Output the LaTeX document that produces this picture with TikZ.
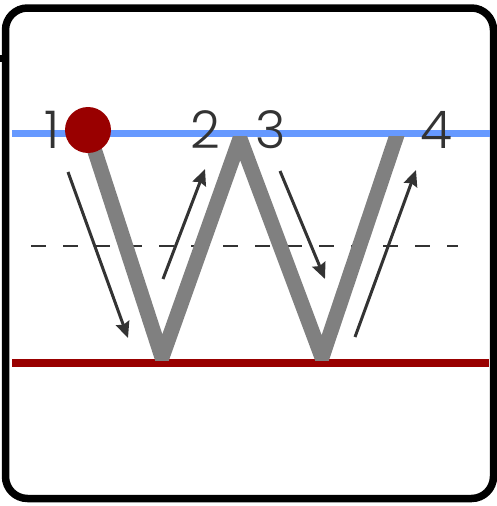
\documentclass[tikz,border=0pt]{standalone}
\usepackage{fontspec}
\newfontfamily\digitfont{Poppins Light}
\usetikzlibrary{arrows.meta}
\definecolor{guideBlue}{HTML}{6699FF}
\definecolor{baseRed}{HTML}{990000}
\definecolor{strokeGrey}{HTML}{808080}
\definecolor{inkGrey}{HTML}{333333}
\tikzset{
  frame/.style      = {draw=black, line width=7.5pt, rounded corners=22pt},
  topguide/.style   = {draw=guideBlue, line width=7pt},
  bottomguide/.style= {draw=baseRed, line width=7.5pt},
  midguide/.style   = {draw=inkGrey, line width=2.5pt, dash pattern=on 15pt off 17pt},
  wstroke/.style    = {draw=strokeGrey, line width=15pt, line join=miter},
  fl/.style         = {-{Stealth[length=16pt, width=14pt, inset=2pt]}, draw=inkGrey, line width=3pt},
  digit/.style      = {font=\digitfont\fontsize{52}{52}\selectfont, text=inkGrey, inner sep=0pt},
  startdot/.style   = {circle, fill=baseRed, minimum size=46pt, inner sep=0pt}
}

\begin{document}
\begin{tikzpicture}[x=1pt, y=-1pt]
  \useasboundingbox (0,0) rectangle (497,506);

  % --- frame
  \draw[frame] (5.5,8) rectangle (493.5,498.5);
  \fill[black] (0,55) rectangle (3,62);

  % --- guide lines
  \coordinate (topL) at (12,133.5);
  \coordinate (topR) at (490,133.5);
  \coordinate (midL) at (31,246);
  \coordinate (midR) at (458,246);
  \coordinate (botL) at (12,363);
  \coordinate (botR) at (489,363);
  \draw[topguide] (topL) -- (topR);
  \draw[midguide] (midL) -- (midR);
  \draw[bottomguide] (botL) -- (botR);

  % --- the letter
  \coordinate (w0) at (88,130);
  \coordinate (w1) at (162,357.5);
  \coordinate (w2) at (240,138.5);
  \coordinate (w3) at (322,357.5);
  \coordinate (w4) at (402,120);
  \begin{scope}
    \clip (0,136) rectangle (497,360);
    \draw[wstroke] (w0) -- (w1) -- (w2) -- (w3) -- (w4);
  \end{scope}
  \node[startdot] (start) at (w0) {};

  % --- stroke numbers
  \node[digit] (n1) at (52,130) {1};
  \node[digit] (n2) at (205,130) {2};
  \node[digit] (n3) at (271,130) {3};
  \node[digit] (n4) at (436,130) {4};

  % --- direction arrows
  \coordinate (a1s) at (68,172);
  \coordinate (a1e) at (128,338);
  \coordinate (a2s) at (163,279);
  \coordinate (a2e) at (205,169);
  \coordinate (a3s) at (280,171);
  \coordinate (a3e) at (325,279);
  \coordinate (a4s) at (355,337);
  \coordinate (a4e) at (416,170);
  \draw[fl] (a1s) -- (a1e);
  \draw[fl] (a2s) -- (a2e);
  \draw[fl] (a3s) -- (a3e);
  \draw[fl] (a4s) -- (a4e);
\end{tikzpicture}
\end{document}
